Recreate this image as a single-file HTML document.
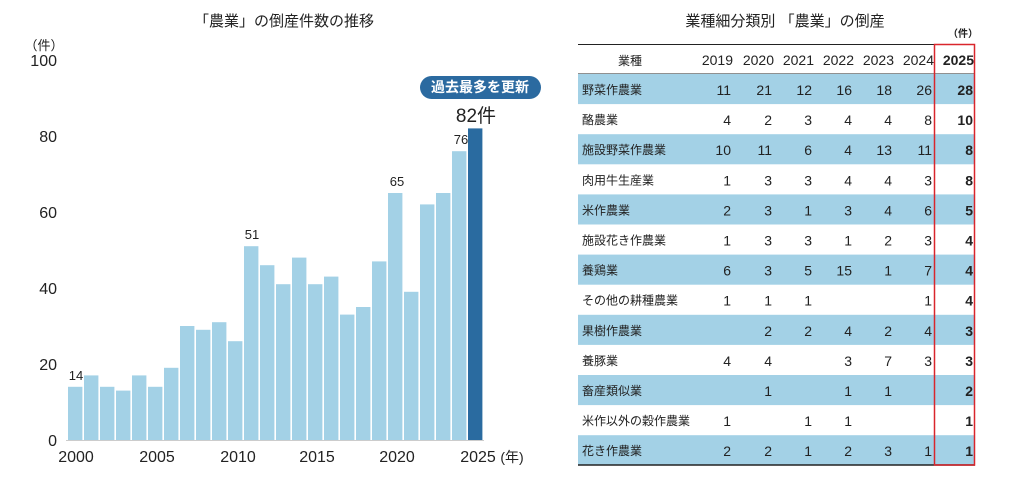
<!DOCTYPE html>
<html><head><meta charset="utf-8"><style>
html,body{margin:0;padding:0;background:#fff}
svg{display:block}
text{font-family:"Liberation Sans","Noto Sans CJK JP",sans-serif;fill:#222}
</style></head><body>
<svg width="1018" height="482" viewBox="0 0 1018 482" xmlns="http://www.w3.org/2000/svg">
<text x="284" y="26" font-size="15" text-anchor="middle" fill="#333">「農業」の倒産件数の推移</text>
<text x="44" y="50" font-size="13" text-anchor="middle">（件）</text>
<g font-size="16" text-anchor="end">
<text x="57" y="66">100</text><text x="57" y="142">80</text><text x="57" y="218">60</text>
<text x="57" y="294">40</text><text x="57" y="370">20</text><text x="57" y="446">0</text>
</g>
<g fill="#a3d1e6" id="bars"></g>
<line x1="66" y1="440.5" x2="484" y2="440.5" stroke="#ccc" stroke-width="1"/>
<g font-size="16" text-anchor="middle">
<text x="76" y="462">2000</text><text x="157" y="462">2005</text><text x="238" y="462">2010</text>
<text x="317" y="462">2015</text><text x="397" y="462">2020</text><text x="478" y="462">2025</text>
<text x="512" y="462" font-size="14">(年)</text>
</g>
<g font-size="13" text-anchor="middle">
<text x="76" y="380">14</text><text x="252" y="239">51</text><text x="397" y="186">65</text><text x="461" y="144">76</text>
</g>
<rect x="420" y="76" width="121" height="23" rx="11.5" fill="#2b6aa0"/>
<text x="480" y="92" font-size="14" font-weight="bold" text-anchor="middle" style="fill:#fff">過去最多を更新</text>
<text x="476" y="122" font-size="19" text-anchor="middle" fill="#111">82件</text>

<text x="785" y="26" font-size="15" text-anchor="middle" fill="#333">業種細分類別 「農業」の倒産</text>
<text x="963" y="37" font-size="10" font-weight="bold" text-anchor="middle">（件）</text>
<g id="tbl"></g>
</svg>
<script>
var v=[14,17,14,13,17,14,19,30,29,31,26,51,46,41,48,41,43,33,35,47,65,39,62,65,76,82];
var ns="http://www.w3.org/2000/svg",g=document.getElementById('bars');
v.forEach(function(d,i){var r=document.createElementNS(ns,'rect');var x=68+i*16;
r.setAttribute('x',x);r.setAttribute('width',14.4);r.setAttribute('y',440-d*3.8);r.setAttribute('height',d*3.8);
if(i==25)r.setAttribute('fill','#2a6ba0');g.appendChild(r);});
var rows=[["野菜作農業",11,21,12,16,18,26,28],["酪農業",4,2,3,4,4,8,10],["施設野菜作農業",10,11,6,4,13,11,8],
["肉用牛生産業",1,3,3,4,4,3,8],["米作農業",2,3,1,3,4,6,5],["施設花き作農業",1,3,3,1,2,3,4],["養鶏業",6,3,5,15,1,7,4],
["その他の耕種農業",1,1,1,"","",1,4],["果樹作農業","",2,2,4,2,4,3],["養豚業",4,4,"",3,7,3,3],["畜産類似業","",1,"",1,1,"",2],
["米作以外の穀作農業",1,"",1,1,"","",1],["花き作農業",2,2,1,2,3,1,1]];
var t=document.getElementById('tbl'),h='';
var ex=[731,772,812,852,892,932,973];
h+='<line x1="578" y1="44.5" x2="975" y2="44.5" stroke="#222"/>';
h+='<text x="630" y="65" font-size="12" text-anchor="middle">業種</text>';
[2019,2020,2021,2022,2023,2024].forEach(function(y,i){h+='<text x="'+(ex[i]+2)+'" y="65" font-size="14" text-anchor="end" fill="#333">'+y+'</text>';});
h+='<text x="974" y="65" font-size="14" font-weight="bold" text-anchor="end">2025</text>';
h+='<line x1="578" y1="74" x2="975" y2="74" stroke="#222"/>';
rows.forEach(function(r,i){var y=74+i*30.1;
if(i%2==0)h+='<rect x="578" y="'+y+'" width="397" height="30.1" fill="#a3d1e6"/>';
h+='<text x="582" y="'+(y+20)+'" font-size="12">'+r[0]+'</text>';
for(var j=1;j<8;j++){if(r[j]!=="")h+='<text x="'+ex[j-1]+'" y="'+(y+21)+'" font-size="14" text-anchor="end"'+(j==7?' font-weight="bold"':' fill="#333"')+'>'+r[j]+'</text>';}
});
h+='<line x1="578" y1="465" x2="975" y2="465" stroke="#222" stroke-width="1.5"/>';
h+='<rect x="934.5" y="44.5" width="40" height="420.5" fill="none" stroke="#d9262c" stroke-width="1.5"/>';
t.innerHTML=h;
</script>
</body></html>
